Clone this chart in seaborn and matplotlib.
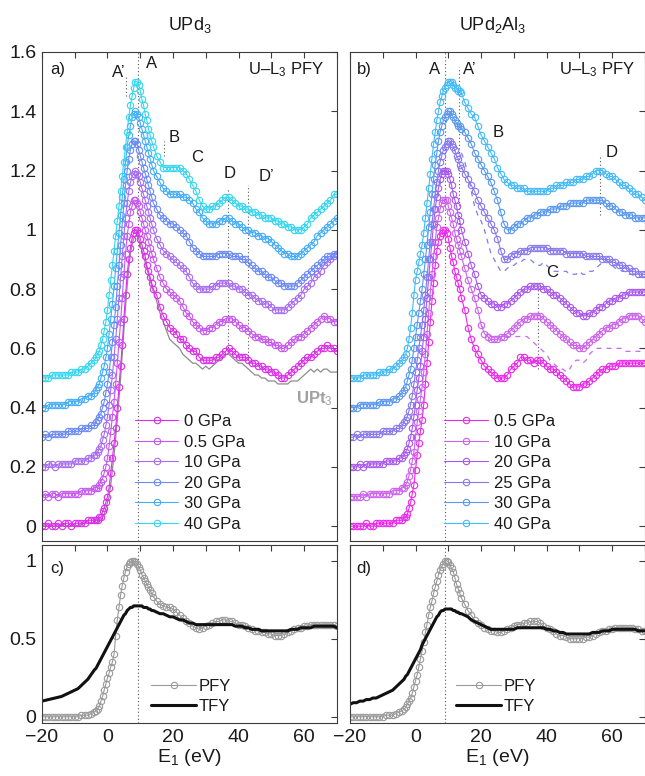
import numpy as np
import pandas as pd
import matplotlib
matplotlib.use("Agg")
import matplotlib.pyplot as plt
from matplotlib.ticker import FuncFormatter
import seaborn as sns

sns.set_theme(style="white")
plt.rcParams["font.family"] = ["Liberation Sans", "DejaVu Sans"]
plt.rcParams["mathtext.fontset"] = "custom"
plt.rcParams["mathtext.rm"] = "Liberation Sans"
plt.rcParams["mathtext.it"] = "Liberation Sans:italic"
plt.rcParams["mathtext.bf"] = "Liberation Sans:bold"

# Incident energy grid (eV): 1 eV below the edge, 0.5 eV across it, 1 eV above
energy = np.concatenate([np.arange(-20, -3.5, 1.0),
                         np.arange(-3.5, 14.01, 0.5),
                         np.arange(15, 70.01, 1.0)])

# ---- UPd3, U-L3 PFY, normalised spectra ----
upd3_labels = ["0 GPa", "0.5 GPa", "10 GPa", "20 GPa", "30 GPa", "40 GPa"]
upd3_colors = ["#de2cec", "#c757f0", "#a86cf2", "#6a8af8", "#44acf8", "#34d6f0"]

upd3_00 = [0.00,0.00,0.01,0.00,0.00,0.01,0.00,0.01,0.01,0.00,0.01,0.01,0.01,0.01,0.02,0.02,0.02,
           0.02,0.02,0.03,0.03,0.05,0.06,0.08,0.10, 0.13,0.18,0.23,0.28,0.33,0.40,0.47,0.54,
           0.61,0.70,0.78,0.85,0.90,0.94,0.97,0.99, 1.00,1.00,0.99,0.97,0.95,0.93,0.91,0.88,
           0.86,0.84,0.82,0.80,
           0.78,0.74,0.71,0.69,0.67,0.66,0.65,0.63,0.63,0.61, 0.60,0.59,0.59,0.57,0.56,0.56,0.56,0.56,0.57,0.57,
           0.58,0.59,0.60,0.59,0.58,0.57,0.57,0.57,0.56,0.55, 0.55,0.54,0.54,0.53,0.53,0.52,0.52,0.51,0.50,0.50,
           0.51,0.52,0.53,0.54,0.55,0.56,0.57,0.57,0.58,0.59, 0.60,0.60,0.61,0.60,0.60,0.59]
upd3_05 = [0.00,0.01,0.00,0.01,0.01,0.00,0.01,0.01,0.01,0.01,0.01,0.01,0.02,0.02,0.02,0.02,0.03,
           0.03,0.03,0.04,0.05,0.06,0.08,0.10,0.13, 0.17,0.22,0.27,0.32,0.38,0.45,0.52,0.59,
           0.67,0.75,0.82,0.88,0.92,0.96,0.98,1.00, 1.00,0.99,0.98,0.96,0.94,0.92,0.90,0.88,
           0.86,0.84,0.82,0.80,
           0.77,0.74,0.72,0.70,0.69,0.68,0.67,0.66,0.64,0.62, 0.61,0.59,0.58,0.57,0.56,0.56,0.57,0.57,0.58,0.59,
           0.59,0.60,0.60,0.60,0.59,0.58,0.57,0.57,0.56,0.55, 0.54,0.54,0.53,0.53,0.52,0.52,0.51,0.51,0.50,0.50,
           0.51,0.52,0.53,0.54,0.54,0.55,0.56,0.57,0.58,0.59, 0.60,0.61,0.60,0.60,0.59,0.59]
upd3_10 = [0.00,0.00,0.01,0.01,0.00,0.01,0.01,0.01,0.01,0.01,0.02,0.02,0.02,0.02,0.03,0.03,0.04,
           0.04,0.05,0.06,0.07,0.09,0.11,0.14,0.17, 0.21,0.26,0.31,0.37,0.43,0.50,0.57,0.64,
           0.71,0.78,0.84,0.89,0.93,0.96,0.98,0.99, 1.00,0.99,0.98,0.96,0.94,0.92,0.90,0.88,
           0.86,0.84,0.82,0.80,
           0.77,0.75,0.73,0.72,0.71,0.70,0.69,0.68,0.67,0.66, 0.64,0.62,0.61,0.60,0.60,0.60,0.60,0.61,0.61,0.62,
           0.62,0.62,0.62,0.61,0.61,0.60,0.60,0.59,0.58,0.58, 0.57,0.56,0.56,0.55,0.55,0.54,0.53,0.53,0.53,0.53,
           0.54,0.55,0.56,0.57,0.58,0.60,0.61,0.62,0.64,0.65, 0.66,0.68,0.69,0.70,0.71,0.72]
upd3_20 = [0.00,0.01,0.00,0.01,0.01,0.01,0.01,0.01,0.02,0.02,0.02,0.02,0.03,0.03,0.03,0.04,0.04,
           0.05,0.06,0.07,0.08,0.10,0.12,0.15,0.18, 0.22,0.27,0.32,0.38,0.44,0.51,0.58,0.65,
           0.72,0.79,0.85,0.90,0.94,0.97,0.99,1.00, 1.00,0.99,0.97,0.95,0.93,0.91,0.89,0.87,
           0.85,0.83,0.81,0.79,
           0.77,0.75,0.74,0.73,0.72,0.72,0.71,0.70,0.69,0.68, 0.66,0.64,0.63,0.62,0.61,0.61,0.61,0.61,0.61,0.62,
           0.62,0.62,0.62,0.61,0.61,0.61,0.60,0.60,0.59,0.58, 0.57,0.56,0.56,0.55,0.54,0.54,0.53,0.52,0.52,0.51,
           0.51,0.51,0.51,0.52,0.53,0.54,0.55,0.56,0.57,0.58, 0.59,0.60,0.61,0.61,0.62,0.62]
upd3_30 = [0.00,0.00,0.01,0.01,0.01,0.01,0.01,0.01,0.02,0.02,0.02,0.02,0.03,0.03,0.04,0.04,0.05,
           0.06,0.07,0.08,0.10,0.12,0.14,0.17,0.20, 0.25,0.30,0.35,0.41,0.47,0.53,0.59,0.65,
           0.71,0.77,0.83,0.88,0.92,0.95,0.98,0.99, 1.00,0.99,0.98,0.96,0.94,0.92,0.90,0.88,
           0.86,0.84,0.82,0.80,
           0.78,0.76,0.74,0.73,0.72,0.72,0.72,0.72,0.71,0.71, 0.70,0.69,0.67,0.66,0.64,0.63,0.62,0.62,0.62,0.63,
           0.63,0.64,0.64,0.63,0.62,0.62,0.61,0.60,0.60,0.59, 0.59,0.58,0.58,0.57,0.57,0.56,0.55,0.54,0.53,0.52,
           0.52,0.51,0.51,0.51,0.52,0.53,0.54,0.55,0.56,0.58, 0.59,0.60,0.61,0.62,0.63,0.64]
upd3_40 = [0.00,0.00,0.00,0.01,0.01,0.01,0.01,0.01,0.01,0.02,0.02,0.02,0.03,0.03,0.04,0.05,0.06,
           0.07,0.08,0.09,0.11,0.13,0.16,0.19,0.23, 0.28,0.33,0.38,0.43,0.48,0.53,0.58,0.63,
           0.68,0.73,0.78,0.83,0.88,0.92,0.95,0.98, 1.00,1.00,0.99,0.97,0.94,0.92,0.89,0.87,
           0.84,0.82,0.80,0.78,
           0.75,0.73,0.71,0.71,0.71,0.71,0.71,0.71,0.70,0.69, 0.67,0.65,0.63,0.60,0.58,0.57,0.57,0.58,0.58,0.59,
           0.60,0.61,0.61,0.60,0.59,0.58,0.58,0.57,0.57,0.56, 0.56,0.55,0.55,0.54,0.54,0.54,0.53,0.53,0.52,0.52,
           0.51,0.51,0.50,0.50,0.50,0.51,0.52,0.54,0.55,0.56, 0.57,0.58,0.59,0.60,0.62,0.62]
upd3_series = [upd3_00, upd3_05, upd3_10, upd3_20, upd3_30, upd3_40]

# UPt3 reference spectrum
upt3 = [0.00,0.00,0.00,0.00,0.00,0.00,0.00,0.00,0.00,0.00,0.00,0.00,0.01,0.01,0.01,0.01,0.01,
        0.01,0.01,0.02,0.02,0.03,0.04,0.06,0.08, 0.10,0.14,0.19,0.24,0.30,0.36,0.43,0.50,
        0.58,0.66,0.74,0.81,0.87,0.92,0.95,0.97, 0.98,0.98,0.97,0.95,0.93,0.91,0.89,0.87,
        0.85,0.83,0.81,0.79,
        0.76,0.72,0.69,0.66,0.63,0.62,0.61,0.60,0.58,0.57, 0.56,0.55,0.55,0.54,0.53,0.54,0.53,0.54,0.55,0.56,
        0.57,0.58,0.58,0.57,0.56,0.55,0.55,0.54,0.53,0.52, 0.51,0.51,0.50,0.50,0.49,0.49,0.49,0.48,0.48,0.48,
        0.48,0.49,0.49,0.49,0.50,0.51,0.52,0.53,0.52,0.53, 0.52,0.53,0.53,0.52,0.52,0.52]

# ---- UPd2Al3, U-L3 PFY, normalised spectra ----
upd2al3_labels = ["0.5 GPa", "10 GPa", "20 GPa", "25 GPa", "30 GPa", "40 GPa"]
upd2al3_colors = ["#ec28ec", "#cc62ee", "#a958ee", "#8878ee", "#5a98ee", "#44baf8"]

upd2al3_05 = [0.00,0.00,0.00,0.00,0.00,0.01,0.00,0.00,0.01,0.01,0.01,0.01,0.01,0.01,0.02,0.02,0.02,
              0.03,0.03,0.04,0.06,0.08,0.11,0.14,0.19, 0.24,0.28,0.32,0.36,0.41,0.48,0.55,0.62,
              0.69,0.76,0.82,0.88,0.93,0.96,0.98,0.99, 1.00,1.00,0.99,0.97,0.94,0.91,0.89,0.86,
              0.84,0.82,0.80,0.77,
              0.73,0.67,0.63,0.60,0.58,0.56,0.54,0.53,0.52,0.51, 0.50,0.50,0.50,0.51,0.53,0.54,0.55,0.57,0.57,0.56,
              0.56,0.55,0.56,0.56,0.55,0.54,0.53,0.53,0.52,0.51, 0.50,0.49,0.48,0.47,0.47,0.47,0.48,0.48,0.49,0.50,
              0.51,0.52,0.53,0.53,0.54,0.54,0.54,0.55,0.55,0.55, 0.55,0.55,0.55,0.55,0.55,0.55]
upd2al3_10 = [0.00,0.00,0.00,0.00,0.01,0.00,0.01,0.01,0.01,0.01,0.01,0.01,0.01,0.02,0.02,0.02,0.03,
              0.03,0.04,0.05,0.07,0.09,0.12,0.15,0.20, 0.25,0.29,0.33,0.37,0.42,0.48,0.55,0.62,
              0.69,0.75,0.81,0.86,0.91,0.94,0.97,0.99, 1.00,1.00,1.00,0.98,0.96,0.94,0.92,0.89,
              0.87,0.85,0.83,0.81,
              0.77,0.73,0.70,0.67,0.63,0.58,0.55,0.54,0.53,0.53, 0.53,0.54,0.54,0.55,0.56,0.57,0.58,0.59,0.60,0.60,
              0.61,0.61,0.61,0.61,0.60,0.59,0.58,0.57,0.56,0.55, 0.54,0.53,0.52,0.51,0.51,0.50,0.50,0.51,0.52,0.53,
              0.54,0.55,0.56,0.57,0.57,0.58,0.58,0.59,0.60,0.60, 0.61,0.61,0.61,0.61,0.60,0.59]
upd2al3_20 = [0.00,0.00,0.00,0.01,0.00,0.01,0.01,0.01,0.01,0.01,0.01,0.02,0.02,0.02,0.02,0.03,0.03,
              0.04,0.05,0.06,0.08,0.10,0.13,0.17,0.21, 0.26,0.30,0.34,0.39,0.44,0.50,0.57,0.64,
              0.70,0.76,0.82,0.87,0.91,0.94,0.97,0.99, 1.00,1.00,1.00,0.99,0.97,0.95,0.92,0.90,
              0.88,0.85,0.83,0.80,
              0.76,0.72,0.68,0.65,0.61,0.58,0.57,0.56,0.55,0.55, 0.54,0.54,0.55,0.55,0.56,0.57,0.58,0.59,0.60,0.60,
              0.61,0.61,0.61,0.61,0.60,0.60,0.59,0.58,0.58,0.57, 0.56,0.55,0.54,0.53,0.52,0.52,0.51,0.51,0.52,0.52,
              0.53,0.54,0.54,0.55,0.56,0.56,0.57,0.57,0.58,0.58, 0.59,0.59,0.59,0.59,0.59,0.59]
upd2al3_25 = [0.00,0.00,0.01,0.00,0.01,0.01,0.01,0.01,0.01,0.01,0.02,0.02,0.02,0.02,0.03,0.03,0.04,
              0.05,0.06,0.07,0.09,0.11,0.14,0.18,0.22, 0.26,0.30,0.34,0.38,0.43,0.48,0.54,0.60,
              0.66,0.72,0.77,0.82,0.86,0.90,0.93,0.95, 0.97,0.98,0.99,1.00,1.00,0.99,0.98,0.97,
              0.95,0.94,0.92,0.91,
              0.89,0.87,0.85,0.83,0.80,0.78,0.76,0.74,0.72,0.70, 0.67,0.63,0.60,0.60,0.61,0.62,0.62,0.63,0.63,0.63,
              0.64,0.64,0.64,0.64,0.64,0.64,0.63,0.63,0.63,0.63, 0.63,0.62,0.62,0.62,0.62,0.62,0.62,0.61,0.61,0.61,
              0.61,0.61,0.60,0.60,0.60,0.59,0.59,0.58,0.58,0.57, 0.57,0.56,0.56,0.55,0.55,0.55]
upd2al3_30 = [0.00,0.00,0.00,0.01,0.01,0.01,0.01,0.01,0.01,0.02,0.02,0.02,0.02,0.03,0.03,0.04,0.05,
              0.06,0.07,0.09,0.11,0.13,0.16,0.20,0.24, 0.28,0.32,0.36,0.40,0.45,0.50,0.55,0.61,
              0.66,0.72,0.77,0.82,0.86,0.90,0.93,0.95, 0.97,0.98,0.99,1.00,1.00,0.99,0.98,0.97,
              0.96,0.95,0.95,0.94,
              0.93,0.91,0.89,0.86,0.84,0.82,0.80,0.78,0.76,0.73, 0.70,0.66,0.62,0.60,0.60,0.61,0.62,0.62,0.63,0.64,
              0.64,0.65,0.65,0.66,0.66,0.66,0.67,0.67,0.67,0.68, 0.68,0.68,0.69,0.69,0.69,0.69,0.69,0.70,0.70,0.70,
              0.70,0.70,0.70,0.69,0.68,0.68,0.67,0.66,0.66,0.65, 0.65,0.65,0.64,0.64,0.64,0.64]
upd2al3_40 = [0.00,0.00,0.00,0.00,0.01,0.01,0.01,0.01,0.01,0.02,0.02,0.02,0.03,0.03,0.04,0.05,0.06,
              0.07,0.08,0.10,0.13,0.17,0.22,0.28,0.33, 0.36,0.39,0.42,0.45,0.49,0.54,0.59,0.64,
              0.69,0.74,0.79,0.83,0.87,0.90,0.93,0.95, 0.97,0.98,0.99,1.00,1.00,1.00,0.99,0.98,
              0.98,0.97,0.97,0.96,
              0.93,0.91,0.89,0.88,0.85,0.82,0.80,0.78,0.76,0.74, 0.71,0.69,0.67,0.66,0.65,0.65,0.64,0.64,0.64,0.63,
              0.63,0.63,0.63,0.63,0.63,0.63,0.64,0.64,0.65,0.65, 0.65,0.66,0.66,0.66,0.67,0.67,0.67,0.68,0.68,0.69,
              0.70,0.70,0.70,0.69,0.68,0.68,0.67,0.66,0.65,0.65, 0.64,0.63,0.62,0.62,0.61,0.60]
upd2al3_series = [upd2al3_05, upd2al3_10, upd2al3_20, upd2al3_25, upd2al3_30, upd2al3_40]

# Repeat scans drawn dashed (25 GPa and 10 GPa)
repeat25_energy = list(range(14, 71))
repeat25 = [0.96,0.93,0.89,0.83,0.78,0.75,0.73,0.70,0.66,0.62, 0.60,0.58,0.56,0.56,0.57,0.58,0.58,0.59,0.59,0.60,
            0.60,0.60,0.59,0.58,0.58,0.59,0.58,0.57,0.56,0.56, 0.56,0.56,0.56,0.55,0.55,0.55,0.56,0.55,0.55,0.56,
            0.56,0.57,0.58,0.59,0.60,0.59,0.58,0.57,0.57,0.56, 0.56,0.55,0.55,0.54,0.54,0.54,0.54]
repeat10_energy = list(range(20, 71))
repeat10 = [0.58,0.56,0.55,0.54,0.54,0.54,0.54,0.54,0.54,0.54, 0.54,0.54,0.54,0.54,0.54,0.53,0.52,0.51,0.50,0.49,
            0.48,0.46,0.45,0.44,0.43,0.43,0.42,0.43,0.45,0.46, 0.46,0.45,0.46,0.48,0.49,0.50,0.50,0.50,0.50,0.50,
            0.50,0.50,0.50,0.50,0.49,0.49,0.49,0.49,0.49,0.49,0.49]

# ---- PFY vs TFY at ambient pressure ----
upd3_pfy = [0.00,0.00,0.00,0.00,0.00,0.00,0.00,0.00,0.00,0.00,0.00,0.00,0.01,0.01,0.01,0.02,0.03,
            0.04,0.05,0.07,0.10,0.13,0.17,0.21,0.25, 0.28,0.32,0.35,0.40,0.52,0.62,0.70,0.78,
            0.84,0.89,0.93,0.96,0.98,0.99,1.00,1.00, 0.99,0.98,0.96,0.94,0.91,0.89,0.87,0.85,
            0.83,0.81,0.79,0.77,
            0.74,0.72,0.71,0.70,0.70,0.69,0.67,0.65,0.63,0.61, 0.60,0.58,0.57,0.56,0.57,0.58,0.59,0.60,0.61,0.61,
            0.62,0.62,0.61,0.61,0.60,0.59,0.59,0.58,0.57,0.56, 0.55,0.55,0.54,0.54,0.53,0.53,0.52,0.52,0.52,0.53,
            0.54,0.55,0.56,0.57,0.57,0.58,0.58,0.59,0.59,0.59, 0.59,0.59,0.59,0.59,0.59,0.58]
upd3_tfy = [0.10,0.105,0.11,0.115,0.12,0.125,0.13,0.14,0.15,0.16,0.17,0.18,0.20,0.22,0.24,0.27,0.30,
            0.31,0.33,0.35,0.37,0.39,0.41,0.43,0.45, 0.47,0.49,0.51,0.53,0.55,0.57,0.59,0.61,
            0.63,0.65,0.66,0.68,0.69,0.70,0.70,0.71, 0.71,0.71,0.71,0.71,0.71,0.70,0.70,0.70,
            0.69,0.69,0.68,0.68,
            0.67,0.66,0.66,0.65,0.64,0.64,0.63,0.62,0.62,0.61, 0.60,0.60,0.59,0.59,0.59,0.59,0.59,0.59,0.59,0.59,
            0.59,0.59,0.59,0.59,0.58,0.58,0.58,0.57,0.57,0.56, 0.56,0.56,0.55,0.55,0.55,0.55,0.55,0.55,0.55,0.55,
            0.55,0.56,0.56,0.56,0.57,0.57,0.57,0.57,0.58,0.58, 0.58,0.58,0.58,0.58,0.58,0.57]
upd2al3_pfy = [0.00,0.00,0.00,0.00,0.00,0.00,0.00,0.00,0.00,0.00,0.00,0.01,0.01,0.01,0.02,0.03,0.04,
               0.05,0.06,0.08,0.10,0.12,0.15,0.19,0.23, 0.27,0.32,0.37,0.42,0.48,0.54,0.59,0.65,
               0.70,0.74,0.79,0.83,0.87,0.91,0.94,0.96, 0.98,1.00,1.00,0.99,0.97,0.95,0.93,0.89,
               0.85,0.82,0.79,0.76,
               0.72,0.68,0.65,0.62,0.60,0.59,0.57,0.56,0.55,0.55, 0.54,0.54,0.55,0.56,0.57,0.58,0.59,0.59,0.60,0.60,
               0.61,0.61,0.61,0.60,0.58,0.57,0.56,0.55,0.53,0.52, 0.52,0.51,0.50,0.50,0.50,0.50,0.50,0.51,0.51,0.52,
               0.53,0.54,0.55,0.55,0.56,0.56,0.57,0.57,0.57,0.57, 0.57,0.57,0.56,0.56,0.55,0.55]
upd2al3_tfy = [0.08,0.09,0.09,0.10,0.10,0.11,0.11,0.12,0.12,0.13,0.14,0.15,0.16,0.17,0.19,0.21,0.23,
               0.24,0.26,0.27,0.29,0.31,0.33,0.35,0.37, 0.39,0.41,0.43,0.46,0.48,0.50,0.52,0.54,
               0.56,0.58,0.60,0.62,0.64,0.65,0.67,0.68, 0.68,0.69,0.69,0.69,0.69,0.69,0.68,0.68,
               0.67,0.67,0.66,0.66,
               0.65,0.64,0.62,0.61,0.60,0.59,0.58,0.57,0.56,0.56, 0.56,0.56,0.56,0.56,0.56,0.56,0.57,0.57,0.57,0.57,
               0.57,0.57,0.57,0.57,0.57,0.56,0.56,0.55,0.55,0.54, 0.54,0.53,0.53,0.53,0.53,0.53,0.53,0.53,0.53,0.54,
               0.54,0.54,0.55,0.55,0.55,0.56,0.56,0.56,0.56,0.56, 0.56,0.56,0.56,0.55,0.55,0.55]

stack_step = 0.1
TXT = "#1a1a1a"
FRAME = "#3c3c3c"
GREY = "#9a9a9a"


def spectrum(ax, x, y, color, label=None, offset=0.0, marker=True, **kw):
    df = pd.DataFrame({"E": np.asarray(x, float), "I": np.asarray(y, float) + offset})
    style = dict(color=color, lw=0.8, estimator=None, sort=False, ax=ax)
    if marker:
        style.update(marker="o", ms=4.6, mfc="none", mec=color, mew=0.8)
    style.update(kw)
    if label is not None:
        style["label"] = label
    sns.lineplot(data=df, x="E", y="I", **style)


def frame(ax, ylim, yticks, show_x, show_y):
    ax.set_xlim(-20, 70)
    ax.set_ylim(*ylim)
    ax.set_xticks(np.arange(-20, 71, 10))
    ax.set_yticks(yticks)
    ax.set_xlabel("")
    ax.set_ylabel("")
    ax.tick_params(direction="in", length=4, width=0.8, color=FRAME, top=True, right=True,
                   labelsize=14, labelcolor=TXT, pad=4,
                   labelbottom=show_x, labelleft=show_y)
    ax.xaxis.set_major_formatter(FuncFormatter(
        lambda v, p: (f"{v:g}".replace("-", "\u2212") if int(round(v)) % 20 == 0 else "")))
    ax.yaxis.set_major_formatter(FuncFormatter(lambda v, p: f"{round(v, 1):g}"))
    for s in ax.spines.values():
        s.set_color(FRAME)
        s.set_linewidth(0.8)
    ax.grid(False)


def vmark(ax, x, y0, y1):
    ax.plot([x, x], [y0, y1], ls=(0, (1, 2.2)), color="#555555", lw=0.8, zorder=1)


fig = plt.figure(figsize=(6.45, 7.76), dpi=100)
ax_a = fig.add_axes([0.065, 0.3028, 0.4574, 0.6302])
ax_b = fig.add_axes([0.5426, 0.3028, 0.4574, 0.6302])
ax_c = fig.add_axes([0.065, 0.0683, 0.4574, 0.2294])
ax_d = fig.add_axes([0.5426, 0.0683, 0.4574, 0.2294])

legend_style = dict(loc="lower left", frameon=False, fontsize=12, handlelength=2.6,
                    handletextpad=0.35, labelspacing=0.33, borderaxespad=0, borderpad=0,
                    labelcolor=TXT)

# ---- a) UPd3 ----
vmark(ax_a, 9.2, -0.05, 1.6)
vmark(ax_a, 5.5, 1.45, 1.52)
vmark(ax_a, 17.1, 1.25, 1.30)
vmark(ax_a, 36.8, 0.59, 1.14)
vmark(ax_a, 43.0, 0.55, 1.15)
spectrum(ax_a, energy, upt3, "#8c8c8c", marker=False, lw=0.9)
for i, (vals, lab, col) in enumerate(zip(upd3_series, upd3_labels, upd3_colors)):
    spectrum(ax_a, energy, vals, col, label=lab, offset=i * stack_step)
frame(ax_a, (-0.05, 1.6), np.arange(0, 1.61, 0.2), False, True)
ax_a.legend(bbox_to_anchor=(0.315, 0.019), **legend_style)

# ---- b) UPd2Al3 ----
vmark(ax_b, 9.1, -0.05, 1.6)
vmark(ax_b, 13.2, 0.95, 1.55)
vmark(ax_b, 37.3, 0.53, 0.83)
vmark(ax_b, 56.4, 1.05, 1.25)
for i, (vals, lab, col) in enumerate(zip(upd2al3_series, upd2al3_labels, upd2al3_colors)):
    spectrum(ax_b, energy, vals, col, label=lab, offset=i * stack_step)
spectrum(ax_b, repeat25_energy, repeat25, "#7d7df0", marker=False, offset=3 * stack_step,
         ls=(0, (4, 4)), lw=0.9)
spectrum(ax_b, repeat10_energy, repeat10, "#c46cee", marker=False, offset=1 * stack_step,
         ls=(0, (4, 4)), lw=0.9)
frame(ax_b, (-0.05, 1.6), np.arange(0, 1.61, 0.2), False, False)
ax_b.legend(bbox_to_anchor=(0.32, 0.019), **legend_style)

# ---- c), d) PFY vs TFY ----
for ax, pfy, tfy, xa in [(ax_c, upd3_pfy, upd3_tfy, 9.2), (ax_d, upd2al3_pfy, upd2al3_tfy, 9.1)]:
    vmark(ax, xa, -0.04, 1.1)
    spectrum(ax, energy, pfy, GREY, label="PFY")
    spectrum(ax, energy, tfy, "#111111", label="TFY", marker=False, lw=2.2)
    frame(ax, (-0.04, 1.1), [0, 0.5, 1], True, ax is ax_c)
    ax.legend(loc="lower left", bbox_to_anchor=(0.37 if ax is ax_c else 0.36, 0.05),
              frameon=False, fontsize=12, handlelength=2.7, handletextpad=0.15,
              labelspacing=0.3, borderaxespad=0, borderpad=0, labelcolor=TXT)
    ax.set_xlabel("E$_1$ (eV)", fontsize=14, color=TXT, labelpad=1)

# ---- annotations ----
lbl = dict(fontsize=12, color=TXT, ha="center", va="center")
ax_a.text(-17.6, 1.54, "a)", fontsize=12, color=TXT, ha="left", va="center")
ax_a.text(3.3, 1.53, "A\u2019", **lbl)
ax_a.text(13.5, 1.56, "A", **lbl)
ax_a.text(20.2, 1.31, "B", **lbl)
ax_a.text(27.4, 1.245, "C", **lbl)
ax_a.text(37.3, 1.19, "D", **lbl)
ax_a.text(48.4, 1.18, "D\u2019", **lbl)
ax_a.text(66.2, 1.54, "U\u2013L$_3$ PFY", fontsize=12, color=TXT, ha="right", va="center")
ax_a.text(63.0, 0.43, "UPt$_3$", fontsize=12, color="#a0a0a0", fontweight="bold",
          ha="center", va="center")

ax_b.text(-18.0, 1.54, "b)", fontsize=12, color=TXT, ha="left", va="center")
ax_b.text(5.8, 1.54, "A", **lbl)
ax_b.text(16.4, 1.54, "A\u2019", **lbl)
ax_b.text(25.2, 1.33, "B", **lbl)
ax_b.text(41.6, 0.855, "C", **lbl)
ax_b.text(59.9, 1.26, "D", **lbl)
ax_b.text(66.9, 1.54, "U\u2013L$_3$ PFY", fontsize=12, color=TXT, ha="right", va="center")

ax_c.text(-17.6, 0.95, "c)", fontsize=12, color=TXT, ha="left", va="center")
ax_d.text(-18.0, 0.95, "d)", fontsize=12, color=TXT, ha="left", va="center")

ax_a.text(0.5, 1.055, "UPd$_3$", transform=ax_a.transAxes, fontsize=13, color=TXT,
          ha="center", va="center")
ax_b.text(0.485, 1.055, "UPd$_2$Al$_3$", transform=ax_b.transAxes, fontsize=13, color=TXT,
          ha="center", va="center")

fig.savefig("out.png", dpi=100)
